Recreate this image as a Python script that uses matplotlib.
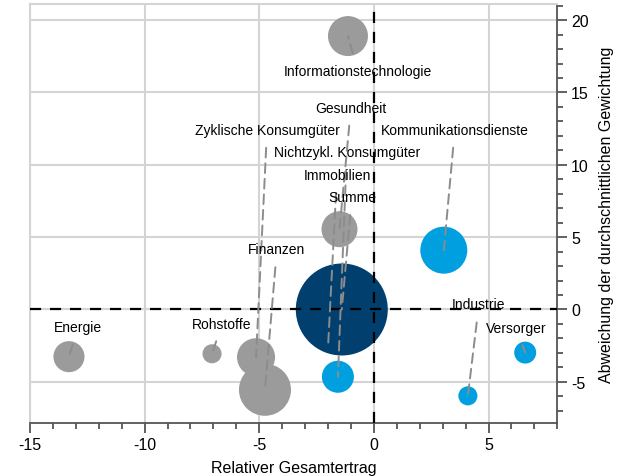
import matplotlib.pyplot as plt
from matplotlib.ticker import MultipleLocator

plt.rcParams['font.family'] = ['Liberation Sans', 'DejaVu Sans']
plt.rcParams['axes.unicode_minus'] = False

# sectors: relative total return vs. deviation from average weight
sectors = ['Informationstechnologie', 'Gesundheit', 'Zyklische Konsumgüter',
           'Kommunikationsdienste', 'Nichtzykl. Konsumgüter', 'Immobilien',
           'Summe', 'Finanzen', 'Energie', 'Rohstoffe', 'Industrie', 'Versorger']
rel_return = [-1.13, -1.5, -5.14, 3.05, -1.57, -2.0, -1.4, -4.75, -13.3, -7.06, 4.1, 6.6]
weight_dev = [18.9, 5.55, -3.3, 4.1, -4.65, -2.6, 0.0, -5.55, -3.26, -3.06, -5.97, -2.98]
bubble_size = [18.9, 15.3, 17.1, 26.1, 12.1, 0.8, 100, 32.0, 11.4, 4.3, 4.3, 5.7]
group = ['g', 'g', 'g', 'b', 'b', 'b', 'n', 'g', 'g', 'g', 'b', 'b']

# label placement (layout only)
label_xy = [(-0.7, 16.46), (-1.0, 13.96), (-4.66, 12.43), (3.53, 12.43),
            (-1.18, 10.9), (-1.61, 9.3), (-0.96, 7.78), (-4.23, 4.17),
            (-12.9, -1.18), (-6.62, -0.97), (4.58, 0.35), (6.19, -1.25)]

colors = {'g': '#9b9b9b', 'b': '#009fe0', 'n': '#003f6e'}

fig = plt.figure(figsize=(6.3, 4.77), dpi=100)
ax = fig.add_axes([0.0476, 0.111, 0.837, 0.878])

ax.set_xlim(-15, 8)
ax.set_ylim(-7.85, 21.1)

ax.grid(True, color='#d4d4d4', linewidth=1.5, zorder=0)
ax.set_axisbelow(True)

# area of each bubble proportional to its size value
k = (92 * 0.72) ** 2 / 100
ax.scatter(rel_return, weight_dev, s=[v * k for v in bubble_size],
           c=[colors[g] for g in group], linewidths=0, zorder=2)

ax.axhline(0, color='black', linestyle=(0, (5, 4)), linewidth=1.6, zorder=3)
ax.axvline(0, color='black', linestyle=(0, (5, 4)), linewidth=1.6, zorder=3)

for name, x, y, (lx, ly) in zip(sectors, rel_return, weight_dev, label_xy):
    ax.annotate(name, xy=(x, y), xytext=(lx, ly), fontsize=10,
                ha='center', va='center', zorder=5,
                arrowprops=dict(arrowstyle='-', color='#8c8c8c', linewidth=1.4,
                                linestyle=(0, (5, 3)), shrinkA=6, shrinkB=0))

ax.yaxis.tick_right()
ax.yaxis.set_label_position('right')
ax.xaxis.set_major_locator(MultipleLocator(5))
ax.xaxis.set_minor_locator(MultipleLocator(1))
ax.yaxis.set_major_locator(MultipleLocator(5))
ax.yaxis.set_minor_locator(MultipleLocator(1))
ax.tick_params(which='major', length=7, width=1.3, color='#555555', labelsize=11.5, pad=3)
ax.tick_params(which='minor', length=4.5, width=1.3, color='#555555')

for side in ['top', 'left']:
    ax.spines[side].set_color('#d4d4d4')
    ax.spines[side].set_linewidth(1.5)
for side in ['bottom', 'right']:
    ax.spines[side].set_color('#555555')
    ax.spines[side].set_linewidth(1.3)

ax.set_xlabel('Relativer Gesamtertrag', fontsize=11.5, labelpad=6)
ax.set_ylabel('Abweichung der durchschnittlichen Gewichtung', fontsize=11.5, labelpad=7)

fig.savefig('out.png', dpi=100)
